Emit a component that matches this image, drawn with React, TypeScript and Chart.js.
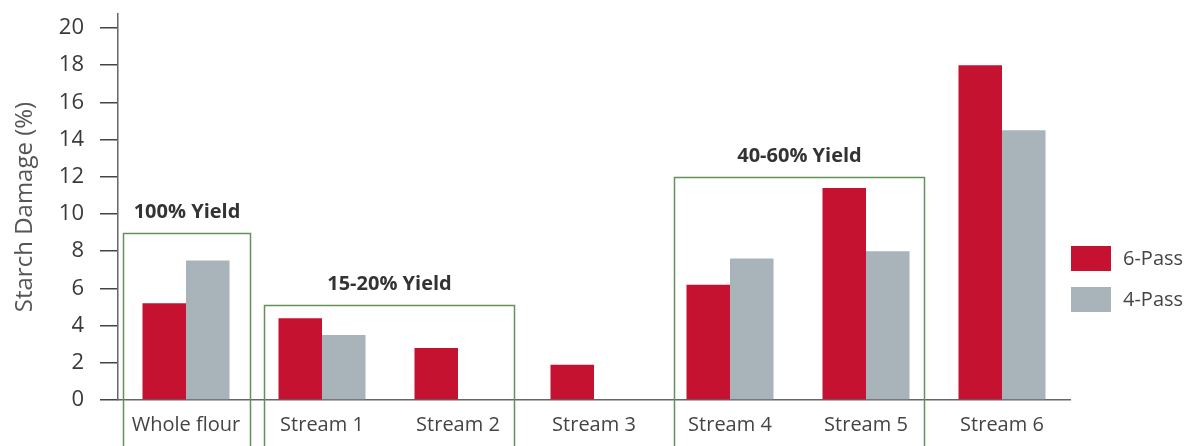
import React, { useEffect, useRef } from "react";
import { Chart, registerables } from "chart.js";

Chart.register(...registerables);

const categories = ["Whole flour", "Stream 1", "Stream 2", "Stream 3", "Stream 4", "Stream 5", "Stream 6"];
const sixPass = [5.2, 4.4, 2.8, 1.9, 6.2, 11.4, 18.0];
const fourPass: (number | null)[] = [7.5, 3.5, null, null, 7.6, 8.0, 14.5];
const seriesLabels = ["6-Pass", "4-Pass"];
const yTicks = [0, 2, 4, 6, 8, 10, 12, 14, 16, 18, 20];

// Yield groups: label, start/end in category-index units, top value on the y scale
const groupLabels = ["100% Yield", "15-20% Yield", "40-60% Yield"];
const groupStart = [-0.46, 0.57, 3.59];
const groupEnd = [0.47, 2.41, 5.43];
const groupTop = [9, 5.1, 12];

const RED = "#c41230";
const GREY = "#a8b3ba";
const GREEN = "#64905a";
const FONT = "'Open Sans', 'Noto Sans', sans-serif";

const overlayPlugin = {
  id: "overlay",
  afterDraw(chart: any) {
    const { ctx, chartArea, scales } = chart;
    const x = scales.x;
    const y = scales.y;
    ctx.save();
    // yield group boxes
    ctx.strokeStyle = GREEN;
    ctx.lineWidth = 1.5;
    ctx.font = `bold 20px ${FONT}`;
    ctx.fillStyle = "#333";
    ctx.textAlign = "center";
    ctx.textBaseline = "middle";
    for (let i = 0; i < groupLabels.length; i++) {
      const x0 = Math.round(x.getPixelForValue(groupStart[i])) + 0.5;
      const x1 = Math.round(x.getPixelForValue(groupEnd[i])) + 0.5;
      const yt = Math.round(y.getPixelForValue(groupTop[i])) + 0.5;
      const yb = chart.height + 10;
      ctx.beginPath();
      ctx.moveTo(x0, yb);
      ctx.lineTo(x0, yt);
      ctx.lineTo(x1, yt);
      ctx.lineTo(x1, yb);
      ctx.stroke();
      ctx.fillText(groupLabels[i], (x0 + x1) / 2, yt - 21);
    }
    // legend
    const lx = chartArea.right + 1;
    let ly = chartArea.bottom - 154;
    ctx.textAlign = "left";
    ctx.font = `20px ${FONT}`;
    chart.data.datasets.forEach((ds: any) => {
      ctx.fillStyle = ds.backgroundColor;
      ctx.fillRect(lx, ly, 40, 25);
      ctx.fillStyle = "#444";
      ctx.fillText(ds.label, lx + 52, ly + 13);
      ly += 41;
    });
    ctx.restore();
  },
};

export default function App() {
  const canvasRef = useRef<HTMLCanvasElement | null>(null);

  useEffect(() => {
    if (!canvasRef.current) return;
    const chart = new Chart(canvasRef.current, {
      type: "bar",
      data: {
        labels: categories,
        datasets: [
          { label: seriesLabels[0], data: sixPass, backgroundColor: RED },
          { label: seriesLabels[1], data: fourPass, backgroundColor: GREY },
        ],
      },
      options: {
        animation: false,
        responsive: true,
        maintainAspectRatio: false,
        datasets: { bar: { categoryPercentage: 0.64, barPercentage: 1.0 } },
        layout: { padding: { top: 14, right: 118, left: 0, bottom: 0 } },
        plugins: { legend: { display: false }, tooltip: { enabled: false } },
        scales: {
          x: {
            grid: { display: false, drawTicks: false },
            border: { display: true, color: "#666", width: 1.5 },
            ticks: { font: { family: FONT, size: 20 }, color: "#444", padding: 13 },
            afterFit: (s: any) => {
              s.height = 46;
              s.paddingLeft = 0;
              s.paddingRight = 0;
            },
          },
          y: {
            min: 0,
            max: 20.75,
            afterBuildTicks: (s: any) => {
              s.ticks = yTicks.map((v) => ({ value: v }));
            },
            grid: { drawOnChartArea: false, drawTicks: true, tickLength: 18, tickColor: "#444", lineWidth: 1.5 },
            border: { display: true, color: "#666", width: 1.5 },
            ticks: { font: { family: FONT, size: 22 }, color: "#3a3a3a", padding: 16 },
            title: {
              display: true,
              text: "Starch Damage (%)",
              font: { family: FONT, size: 24 },
              color: "#555",
              padding: { top: 11, bottom: 0 },
            },
            afterFit: (s: any) => {
              s.width = 118;
              s.paddingTop = 0;
              s.paddingBottom = 0;
            },
          },
        },
      },
      plugins: [overlayPlugin],
    });
    return () => chart.destroy();
  }, []);

  return (
    <div style={{ position: "absolute", left: 0, top: 0, width: 1188, height: 446, background: "#fff" }}>
      <canvas ref={canvasRef} />
    </div>
  );
}
